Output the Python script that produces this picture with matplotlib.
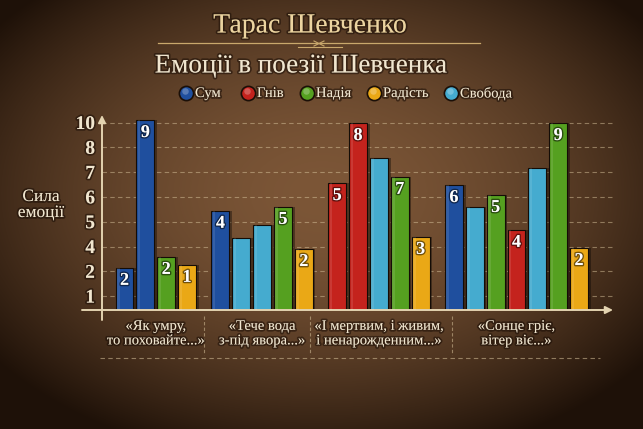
import numpy as np
import matplotlib
matplotlib.use('Agg')
import matplotlib.pyplot as plt
import matplotlib.patheffects as pe

# --- data ---
emotions = ['Сум', 'Гнів', 'Надія', 'Радість', 'Свобода']
emotion_colors = ['#1f4f9e', '#c4231d', '#55a020', '#eaa816', '#45abcf']

poems = ['«Як умру,\nто поховайте...»',
         '«Тече вода\nз-під явора...»',
         '«І мертвим, і живим,\nі ненарожденним...»',
         '«Сонце гріє,\nвітер віє...»']

# which emotion each bar shows, its drawn height (on the chart's own scale) and the number printed on it
bar_emotion = [['Сум', 'Сум', 'Надія', 'Радість'],
               ['Сум', 'Свобода', 'Свобода', 'Надія', 'Радість'],
               ['Гнів', 'Гнів', 'Свобода', 'Надія', 'Радість'],
               ['Сум', 'Свобода', 'Надія', 'Гнів', 'Свобода', 'Надія', 'Радість']]
bar_height = [[2.14, 8.10, 2.58, 2.26],
              [4.44, 3.35, 3.87, 4.60, 2.90],
              [5.56, 7.98, 6.57, 5.81, 3.39],
              [5.48, 4.60, 5.08, 3.67, 6.17, 7.98, 2.94]]
bar_label = [['2', '9', '2', '1'],
             ['4', '', '', '5', '2'],
             ['5', '8', '', '7', '3'],
             ['6', '', '5', '4', '', '9', '2']]

ytick_labels = ['1', '2', '4', '5', '6', '7', '8', '10']

# --- style ---
W, H = 643, 429
SERIF = ['Liberation Serif', 'DejaVu Serif']
CREAM = '#f1e6cf'
GOLD = '#ecd4a0'
LINE = '#e3d3b0'
glow = [pe.withStroke(linewidth=2.5, foreground=(0.1, 0.05, 0.02, 0.55))]

fig = plt.figure(figsize=(W / 100, H / 100), dpi=100)

# leather-like background with a dark vignette, in pixel coordinates
bg = fig.add_axes([0, 0, 1, 1])
yy, xx = np.mgrid[0:H, 0:W]
r = np.sqrt(((xx - W * 0.5) / (W * 0.64)) ** 2 + ((yy - H * 0.45) / (H * 0.64)) ** 2)
t = np.clip(r, 0, 1) ** 1.8
c_in = np.array([124, 86, 55]) / 255
c_out = np.array([30, 17, 8]) / 255
img = c_in * (1 - t)[..., None] + c_out * t[..., None]
bg.imshow(img, extent=(0, W, H, 0), aspect='auto')
bg.set_xlim(0, W)
bg.set_ylim(H, 0)
bg.axis('off')

# header
bg.text(310, 26, 'Тарас Шевченко', ha='center', va='center', fontsize=20,
        color=GOLD, family=SERIF, path_effects=glow)
bg.plot([158, 480], [43, 43], color='#c9a86c', lw=0.9)
bg.plot([298, 342], [46.5, 46.5], color='#c9a86c', lw=0.8)
bg.plot([314, 324], [41, 46], color='#c9a86c', lw=0.8)
bg.plot([314, 324], [46, 41], color='#c9a86c', lw=0.8)
bg.text(301, 66, 'Емоції в поезії Шевченка', ha='center', va='center', fontsize=19.5,
        color=CREAM, family=SERIF, path_effects=glow)

# legend
legend_x = [186, 248, 307, 374, 451]
for name, col, lx in zip(emotions, emotion_colors, legend_x):
    bg.scatter([lx], [93], s=105, color=col, edgecolors='#1b0f07', linewidths=1.2, zorder=3)
    bg.scatter([lx - 1.5], [90.5], s=22, color='white', alpha=0.25, linewidths=0, zorder=4)
    bg.text(lx + 9, 93.5, name, ha='left', va='center', fontsize=10.5,
            color=CREAM, family=SERIF, path_effects=glow)

bg.text(41, 205, 'Сила\nемоції', ha='center', va='center', fontsize=12.5,
        color=CREAM, family=SERIF, linespacing=1.0, path_effects=glow)

# --- main chart ---
ax = fig.add_axes([102 / W, (H - 310) / H, (613 - 102) / W, (310 - 115) / H])
ax.set_facecolor('none')

color_of = dict(zip(emotions, emotion_colors))
pos, heights, colors, labels, centers = [], [], [], [], []
i = 0
for g in range(len(poems)):
    start = i + 0.6 * g
    for e, h, lb in zip(bar_emotion[g], bar_height[g], bar_label[g]):
        pos.append(i + 0.6 * g)
        heights.append(h)
        colors.append(color_of[e])
        labels.append(lb)
        i += 1
    centers.append((start + pos[-1]) / 2)
pos = np.array(pos)

ax.bar(pos + 0.13, heights, width=0.86, color='black', alpha=0.35, zorder=2)
ax.bar(pos, heights, width=0.86, color=colors, edgecolor='#140c06', linewidth=0.8, zorder=3)
ax.bar(pos - 0.3, heights, width=0.12, color='white', alpha=0.10, linewidth=0, zorder=4)

for x, h, lb in zip(pos, heights, labels):
    if lb:
        ax.annotate(lb, (x, h), xytext=(0, -9), textcoords='offset points',
                    ha='center', va='center', fontsize=13, fontweight='bold',
                    color='white', family=SERIF, zorder=5,
                    path_effects=[pe.withStroke(linewidth=2, foreground=(0, 0, 0, 0.5))])

ax.set_xlim(-1.08, 23.43)
ax.set_ylim(0.44, 0.44 + 195 / 24.8)
ax.set_yticks(range(1, len(ytick_labels) + 1))
ax.set_yticklabels(ytick_labels, fontsize=14, fontweight='bold', color=CREAM, family=SERIF)
for tl in ax.get_yticklabels():
    tl.set_path_effects(glow)
ax.set_xticks([])
ax.tick_params(length=0, pad=5)
ax.grid(axis='y', linestyle=(0, (4, 3)), color='#d8c39c', alpha=0.5, lw=0.8)
ax.set_axisbelow(True)
for s in ax.spines.values():
    s.set_visible(False)

# axes with arrows
arrow = dict(arrowstyle='-|>', color=LINE, lw=1.4, mutation_scale=11, shrinkA=0, shrinkB=0)
ax.annotate('', xy=(1.0, 0), xytext=(-20 / 511, 0), xycoords='axes fraction', arrowprops=arrow)
ax.annotate('', xy=(0, 1.0), xytext=(0, -10 / 195), xycoords='axes fraction', arrowprops=arrow)

# poem labels under the bars
for cx, name in zip(centers, poems):
    ax.annotate(name, (cx, 0), xycoords=('data', 'axes fraction'), xytext=(0, -17),
                textcoords='offset points', ha='center', va='center', fontsize=10.5,
                color=CREAM, family=SERIF, linespacing=1.15, path_effects=glow)

sep_x = [3.8, 8.9, 15.7]
for sx in sep_x:
    ax.plot([sx, sx], [-6 / 195, -45 / 195], transform=ax.get_xaxis_transform(),
            color='#d8c39c', alpha=0.55, lw=0.8, linestyle=(0, (3, 2)), clip_on=False)
ax.plot([-2 / 511, 498 / 511], [-48 / 195, -48 / 195], transform=ax.transAxes,
        color='#d8c39c', alpha=0.55, lw=0.8, linestyle=(0, (4, 3)), clip_on=False)

fig.savefig('out.png', dpi=100)
